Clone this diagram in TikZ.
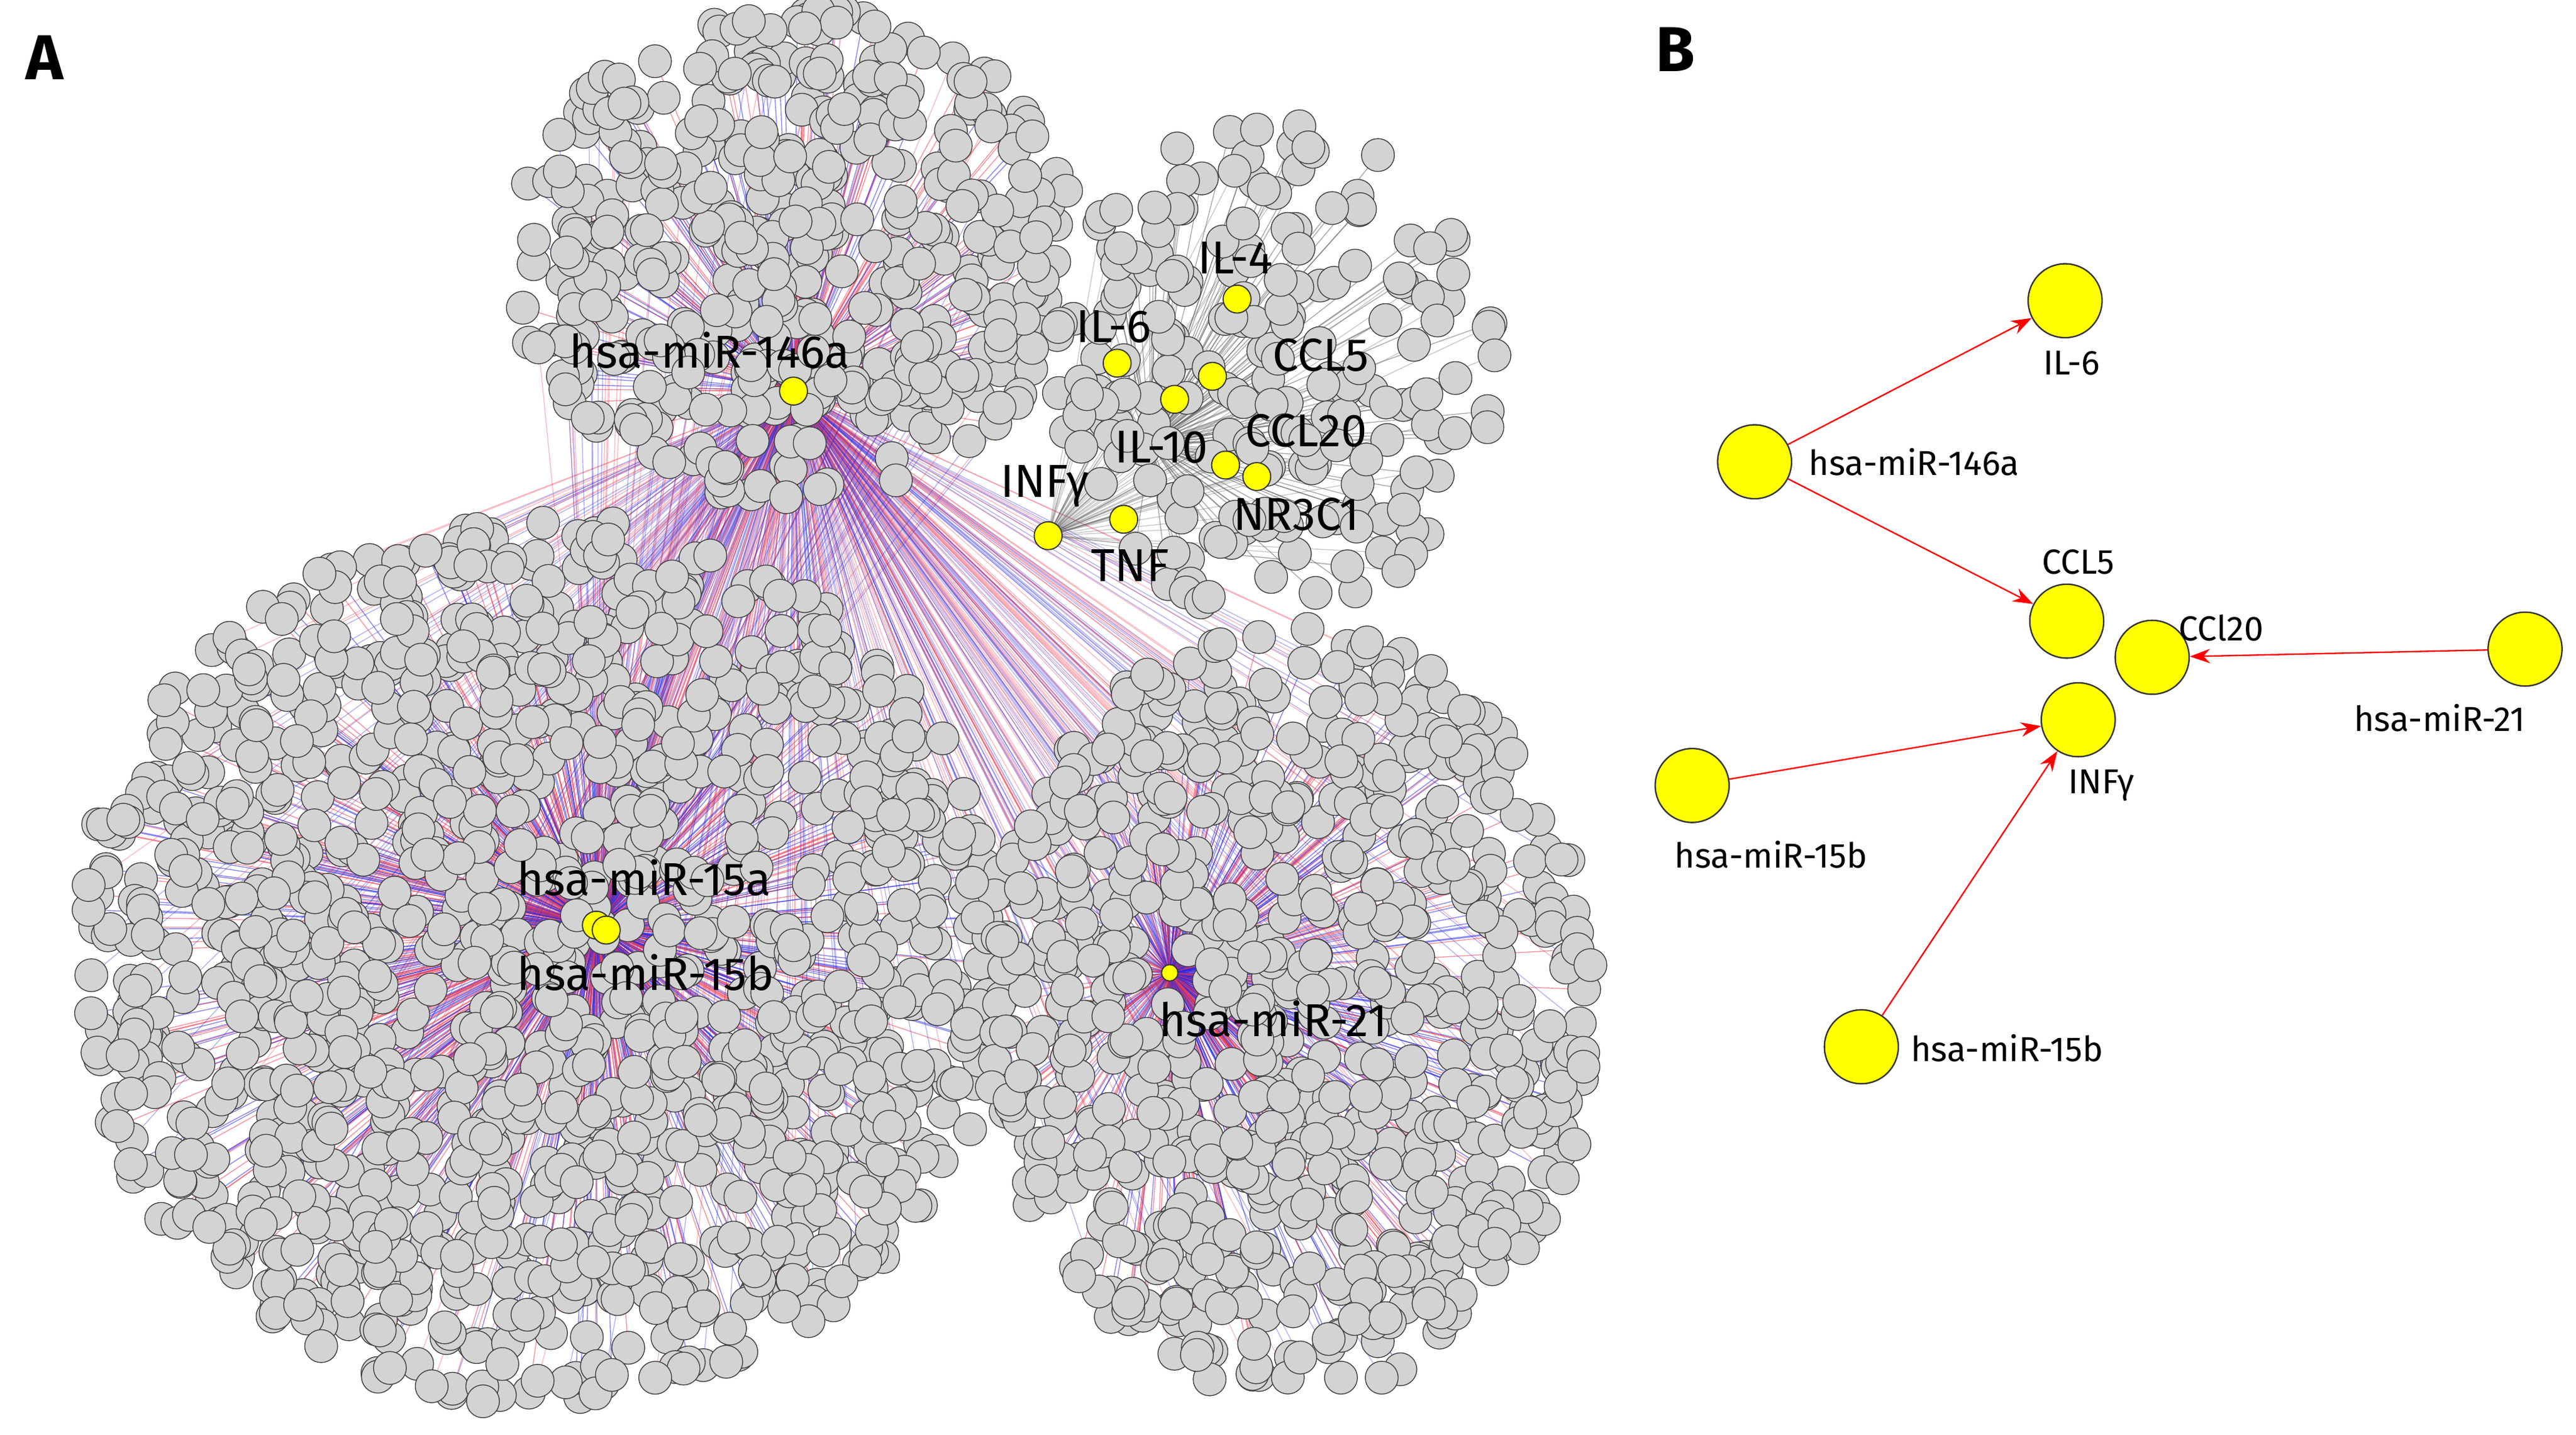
\documentclass[tikz,border=0pt]{standalone}
\usepackage{fontspec}
\setmainfont{Fira Sans}
\usetikzlibrary{arrows.meta}
\definecolor{gnode}{RGB}{211,211,211}
\definecolor{ynode}{RGB}{255,255,0}
\definecolor{ered}{RGB}{240,60,80}
\definecolor{eblue}{RGB}{40,40,230}
\tikzset{
 gn/.style={fill=gnode,draw=black!75,line width=0.3pt},
 yn/.style={circle,fill=ynode,draw=black!80,line width=0.4pt,inner sep=0pt,minimum size=0.34cm},
 ybn/.style={circle,fill=ynode,draw=black!80,line width=0.5pt,inner sep=0pt,minimum size=0.9cm},
 lblA/.style={font=\fontsize{16}{16}\selectfont,inner sep=1pt},
 lblB/.style={font=\fontsize{12}{12}\selectfont,inner sep=1pt},
 rarrow/.style={draw=red,line width=0.5pt,-{Stealth[length=7pt,width=5pt]}},
}
% cx cy Rx Ry N seed hub1 hub2 mode(0 edges / 1 nodes / 2 gray edges)
\newcommand\gclust[9]{%
 \pgfmathsetseed{#6}%
 \foreach \i in {1,...,#5}{%
  \pgfmathsetmacro\ang{rnd*360}%
  \pgfmathsetmacro\rr{sqrt(rnd)}%
  \pgfmathsetmacro\px{#1+#3*\rr*cos(\ang)}%
  \pgfmathsetmacro\py{#2+#4*\rr*sin(\ang)}%
  \pgfmathsetmacro\cc{rnd}%
  \pgfmathsetmacro\hh{rnd}%
  \ifnum#9=1
   \filldraw[gn] (\px,\py) circle [radius=0.2cm];
  \else
   \ifdim\cc pt<0.5pt \def\ec{ered}\else\def\ec{eblue}\fi
   \ifnum#9=2 \def\ec{black!60}\fi
   \ifdim\hh pt<0.75pt
    \draw[\ec,line width=0.3pt,opacity=0.55] (#7) -- (\px,\py);
   \else
    \draw[\ec,line width=0.3pt,opacity=0.35] (#8) -- (\px,\py);
   \fi
  \fi
 }}
\begin{document}
\begin{tikzpicture}[x=0.02cm,y=-0.02cm]
\useasboundingbox (0,0) rectangle (1568,873);
\fill[white] (0,0) rectangle (1568,873);
\coordinate (h146) at (483,238);
\coordinate (h15) at (363,564);
\coordinate (h21) at (712,592);
\coordinate (hcy) at (700,270);
\coordinate (hinf) at (638,326);
% edges
\gclust{330}{585}{285}{270}{1300}{11}{h15}{h146}{0}
\gclust{785}{615}{185}{235}{720}{23}{h21}{h146}{0}
\gclust{485}{155}{175}{150}{450}{37}{h146}{h15}{0}
\gclust{775}{225}{135}{150}{200}{41}{hcy}{hinf}{2}
% nodes
\gclust{330}{585}{285}{270}{1300}{11}{h15}{h146}{1}
\gclust{785}{615}{185}{235}{720}{23}{h21}{h146}{1}
\gclust{485}{155}{175}{150}{450}{37}{h146}{h15}{1}
\gclust{775}{225}{135}{150}{200}{41}{hcy}{hinf}{1}
% yellow nodes panel A
\node[yn] (a146) at (483,238) {};
\node[yn] (ail4) at (753,182) {};
\node[yn] (ail6) at (680,221) {};
\node[yn] (accl5) at (738,229) {};
\node[yn] (ax) at (715,243) {};
\node[yn] (ail10) at (746,283) {};
\node[yn] (accl20) at (765,290) {};
\node[yn] (ainf) at (638,326) {};
\node[yn] (atnf) at (684,316) {};
\node[yn] (a15a) at (363,563) {};
\node[yn] (a15b) at (369,566) {};
\node[yn,minimum size=0.2cm] (a21) at (712,592) {};
\node[lblA] at (432,213) {hsa-miR-146a};
\node[lblA] at (752,157) {IL-4};
\node[lblA] at (678,199) {IL-6};
\node[lblA] at (804,216) {CCL5};
\node[lblA] at (707,272) {IL-10};
\node[lblA] at (795,262) {CCL20};
\node[lblA] at (636,296) {INFγ};
\node[lblA] at (789,313) {NR3C1};
\node[lblA] at (688,344) {TNF};
\node[lblA] at (392,534) {hsa-miR-15a};
\node[lblA] at (393,592) {hsa-miR-15b};
\node[lblA] at (775,620) {hsa-miR-21};
\node[font=\fontsize{22}{22}\selectfont\bfseries] at (27,35) {A};
\node[font=\fontsize{22}{22}\selectfont\bfseries] at (1020,30) {B};
% panel B
\node[ybn] (bil6) at (1257,183) {};
\node[ybn] (b146) at (1068,281) {};
\node[ybn] (bccl5) at (1258,378) {};
\node[ybn] (bccl20) at (1310,400) {};
\node[ybn] (b21) at (1537,395) {};
\node[ybn] (binf) at (1265,438) {};
\node[ybn] (b15a) at (1030,478) {};
\node[ybn] (b15b) at (1133,637) {};
\draw[rarrow] (b146) -- (bil6);
\draw[rarrow] (b146) -- (bccl5);
\draw[rarrow] (b21) -- (bccl20);
\draw[rarrow] (b15a) -- (binf);
\draw[rarrow] (b15b) -- (binf);
\node[lblB] at (1261,221) {IL-6};
\node[lblB,anchor=west] at (1099,281) {hsa-miR-146a};
\node[lblB] at (1265,342) {CCL5};
\node[lblB] at (1352,382) {CCl20};
\node[lblB] at (1485,437) {hsa-miR-21};
\node[lblB] at (1279,478) {INFγ};
\node[lblB] at (1078,520) {hsa-miR-15b};
\node[lblB,anchor=west] at (1161,638) {hsa-miR-15b};
\end{tikzpicture}
\end{document}
